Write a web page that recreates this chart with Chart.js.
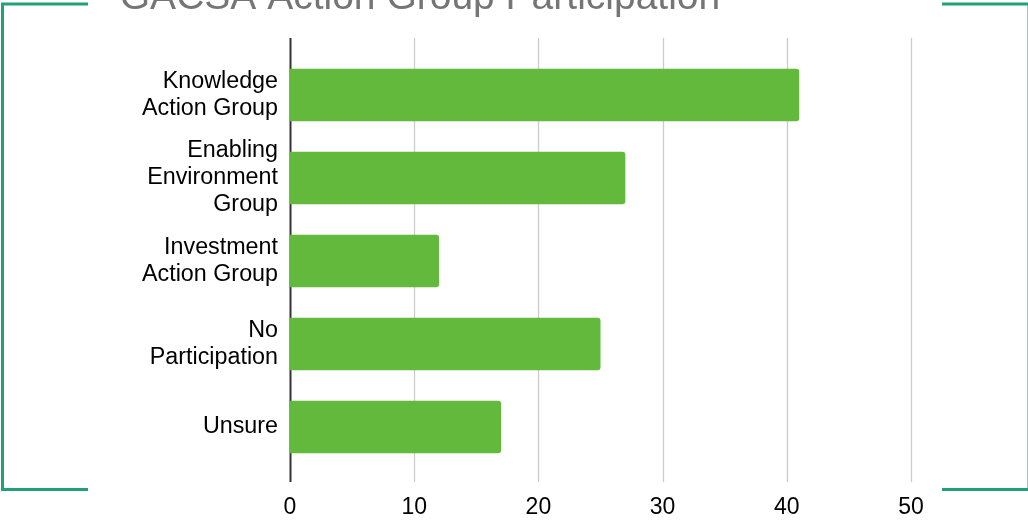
<!DOCTYPE html>
<html>
<head>
<meta charset="utf-8">
<script src="https://cdn.jsdelivr.net/npm/chart.js@4/dist/chart.umd.min.js"></script>
<style>
  html, body { margin: 0; padding: 0; background: #ffffff; }
  #wrap { position: relative; width: 1028px; height: 520px; overflow: hidden; }
</style>
</head>
<body>
<div id="wrap"><canvas id="groupChart" width="1028" height="520"></canvas></div>
<script>
// Chart data
const chartTitle = 'GACSA Action Group Participation';
const categories = [
    ['Knowledge', 'Action Group'],
    ['Enabling', 'Environment', 'Group'],
    ['Investment', 'Action Group'],
    ['No', 'Participation'],
    ['Unsure']
];
const participants = [41, 27, 12, 25, 17];
const xTicks = [0, 10, 20, 30, 40, 50];

const FONT = '"Liberation Sans", Arial, sans-serif';

// Vertical grid lines run a bit past the category band, like the original
const gridPlugin = {
    id: 'extendedGrid',
    beforeDatasetsDraw(chart) {
        const ctx = chart.ctx;
        const x = chart.scales.x;
        const area = chart.chartArea;
        ctx.save();
        xTicks.forEach(t => {
            const px = Math.round(x.getPixelForValue(t)) + 0.5;
            ctx.beginPath();
            if (t === 0) {
                ctx.strokeStyle = '#333333';
                ctx.lineWidth = 2;
            } else {
                ctx.strokeStyle = '#cccccc';
                ctx.lineWidth = 1.3;
            }
            ctx.moveTo(px, area.top - 15.5);
            ctx.lineTo(px, area.bottom + 13.5);
            ctx.stroke();
        });
        ctx.restore();
    }
};

// Title (cut off at the top) and the green corner frame
const decorPlugin = {
    id: 'decor',
    afterDraw(chart) {
        const ctx = chart.ctx;
        ctx.save();
        ctx.fillStyle = '#757575';
        ctx.font = '39px ' + FONT;
        ctx.textAlign = 'center';
        ctx.textBaseline = 'alphabetic';
        ctx.fillText(chartTitle, 420, 9);

        ctx.strokeStyle = '#21a07a';
        ctx.lineWidth = 3;
        ctx.beginPath();
        ctx.moveTo(88, 4);
        ctx.lineTo(2.5, 4);
        ctx.lineTo(2.5, 489.5);
        ctx.lineTo(88, 489.5);
        ctx.stroke();

        ctx.beginPath();
        ctx.moveTo(942, 4);
        ctx.lineTo(1029, 4);
        ctx.lineTo(1029, 489.5);
        ctx.lineTo(942, 489.5);
        ctx.stroke();
        ctx.restore();
    }
};

new Chart(document.getElementById('groupChart'), {
    type: 'bar',
    data: {
        labels: categories,
        datasets: [{
            data: participants,
            backgroundColor: '#63b93c',
            borderRadius: 3,
            borderSkipped: 'start',
            categoryPercentage: 1,
            barPercentage: 0.63
        }]
    },
    options: {
        indexAxis: 'y',
        responsive: false,
        animation: false,
        devicePixelRatio: 1,
        layout: {
            padding: { top: 53.5, right: 117, bottom: 0, left: 0 }
        },
        plugins: {
            legend: { display: false },
            tooltip: { enabled: false },
            title: { display: false }
        },
        scales: {
            x: {
                type: 'linear',
                min: 0,
                max: 50,
                afterBuildTicks: scale => {
                    scale.ticks = xTicks.map(v => ({ value: v }));
                },
                grid: { display: false, drawTicks: false },
                border: { display: false },
                ticks: {
                    color: '#000000',
                    padding: 26,
                    maxRotation: 0,
                    font: { family: FONT, size: 23, lineHeight: 1.17 }
                },
                afterFit: scale => { scale.height = 51.5; }
            },
            y: {
                grid: { display: false, drawTicks: false },
                border: { display: false },
                ticks: {
                    color: '#000000',
                    padding: 12,
                    autoSkip: false,
                    font: { family: FONT, size: 23.3, lineHeight: 1.16 }
                },
                afterFit: scale => { scale.width = 290; }
            }
        }
    },
    plugins: [gridPlugin, decorPlugin]
});
</script>
</body>
</html>
